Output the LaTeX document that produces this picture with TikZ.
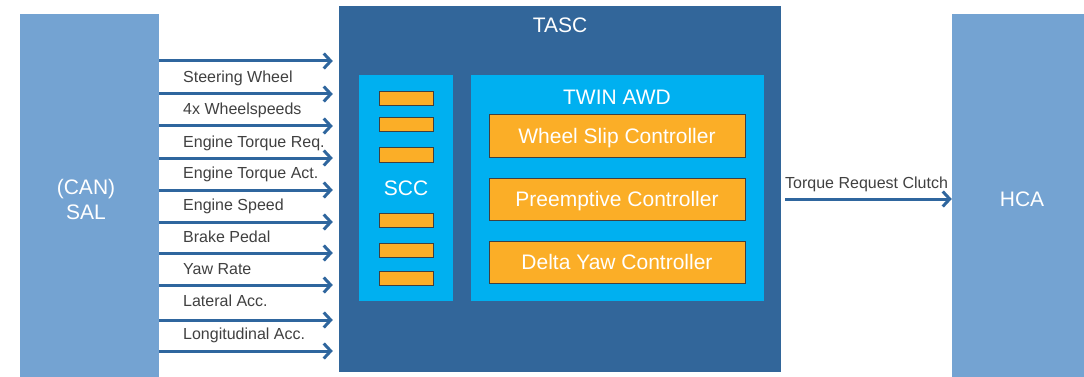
\documentclass[tikz,border=0pt]{standalone}
\usepackage{fontspec}
\setmainfont{Liberation Sans}
\usetikzlibrary{arrows.meta}
\definecolor{salblue}{HTML}{74A3D2}
\definecolor{tascblue}{HTML}{32669A}
\definecolor{cyanbox}{HTML}{00B0F0}
\definecolor{orangebox}{HTML}{FBAE27}
\definecolor{arrowblue}{HTML}{2F669E}
\definecolor{labelgray}{HTML}{404040}
\tikzset{
  blockbox/.style={fill=#1, draw=none, inner sep=0pt, text=white, font=\fontsize{20}{24}\selectfont, align=center},
  bigtext/.style={text=white, inner sep=0pt, font=\fontsize{21}{25}\selectfont, text height=15pt, text depth=0pt},
  ctrlbox/.style={fill=orangebox, draw=labelgray, line width=1pt, inner sep=0pt, minimum width=256pt, minimum height=42pt, text=white, font=\fontsize{21}{25}\selectfont, text height=15pt, text depth=0pt},
  slot/.style={fill=orangebox, draw=labelgray, line width=1pt, inner sep=0pt, minimum width=54pt, minimum height=14pt},
  siglabel/.style={anchor=west, inner sep=0pt, text=labelgray, font=\fontsize{16}{19}\selectfont, text height=11.5pt, text depth=0pt},
  sig/.style={draw=arrowblue, line width=3pt, -{Straight Barb[length=7pt,width=15pt,line width=3pt]}},
}
\begin{document}
\begin{tikzpicture}[x=1pt,y=-1pt]
\useasboundingbox (0,0) rectangle (1084,377);
% main blocks
\node[blockbox=salblue, minimum width=139pt, minimum height=363pt] (SAL) at (89.5,195.5) {};
\node[bigtext, align=center, font=\fontsize{21}{25}\selectfont] (SALtxt) at (86,212) {(CAN)\\SAL};
\node[blockbox=tascblue, minimum width=442pt, minimum height=366pt] (TASC) at (560,189) {};
\node[bigtext] (TASCtxt) at (560,25) {TASC};
\node[blockbox=salblue, minimum width=132pt, minimum height=363pt] (HCA) at (1018,195.5) {};
\node[bigtext] (HCAtxt) at (1022,199) {HCA};
% SCC
\node[blockbox=cyanbox, minimum width=94pt, minimum height=226pt] (SCC) at (406,188) {};
\node[bigtext] (SCCtxt) at (406,188) {SCC};
\node[slot] (s1) at (406,99) {};
\node[slot] (s2) at (406,125) {};
\node[slot] (s3) at (406,155) {};
\node[slot] (s4) at (406,220) {};
\node[slot] (s5) at (406,250) {};
\node[slot] (s6) at (406,278) {};
% TWIN AWD
\node[blockbox=cyanbox, minimum width=293pt, minimum height=226pt] (TWIN) at (617.5,188) {};
\node[bigtext] (TWINtxt) at (617,97) {TWIN AWD};
\node[ctrlbox] (WSC) at (617,136) {Wheel Slip Controller};
\node[ctrlbox] (PC) at (617,199) {Preemptive Controller};
\node[ctrlbox] (DYC) at (617,262) {Delta Yaw Controller};
% input signals
\foreach \y in {61,94,126,158,190,222,253,285,320,351}{
  \draw[sig, shorten >=6pt] (SAL.east |- 0,\y) -- (TASC.west |- 0,\y);
}
\node[siglabel] (l1) at (183,77) {Steering Wheel};
\node[siglabel] (l2) at (183,109) {4x Wheelspeeds};
\node[siglabel] (l3) at (183,142) {Engine Torque Req.};
\node[siglabel] (l4) at (183,173) {Engine Torque Act.};
\node[siglabel] (l5) at (183,205) {Engine Speed};
\node[siglabel] (l6) at (183,237) {Brake Pedal};
\node[siglabel] (l7) at (183,269) {Yaw Rate};
\node[siglabel] (l8) at (183,301) {Lateral Acc.};
\node[siglabel] (l9) at (183,334) {Longitudinal Acc.};
% output
\draw[sig, shorten <=4pt] (TASC.east |- 0,199) -- (HCA.west |- 0,199);
\node[siglabel] (lout) at (785,183) {Torque Request Clutch};
\end{tikzpicture}
\end{document}
